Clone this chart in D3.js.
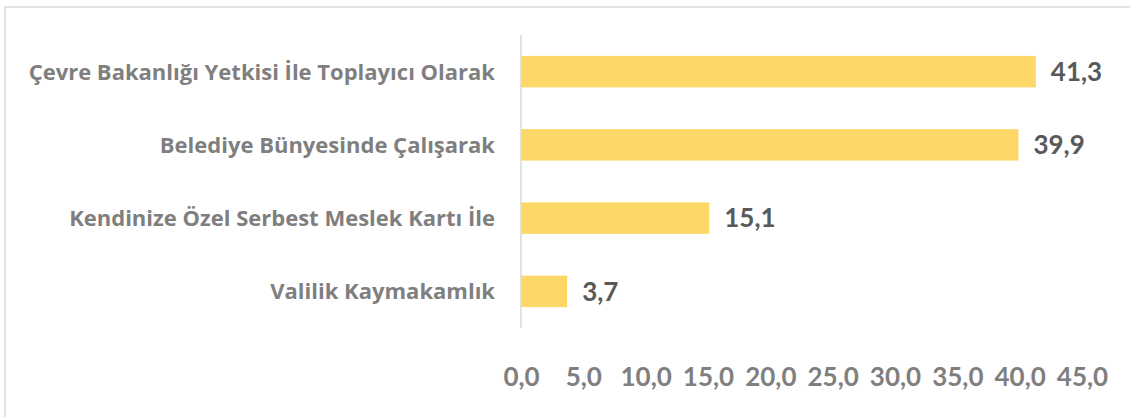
<!DOCTYPE html>
<html>
<head>
<meta charset="utf-8">
<script src="https://cdn.jsdelivr.net/npm/d3@7"></script>
<style>
  html, body { margin: 0; padding: 0; background: #fff; }
  svg { display: block; }
  text { font-family: Lato, "Open Sans", sans-serif; font-weight: 700; }
  .cat { font-family: "Open Sans", Lato, sans-serif; }
</style>
</head>
<body>
<svg id="chart" width="1130" height="417"></svg>
<script>
// Categories (top to bottom) and their percentages
const categories = [
  "Çevre Bakanlığı Yetkisi İle Toplayıcı Olarak",
  "Belediye Bünyesinde Çalışarak",
  "Kendinize Özel Serbest Meslek Kartı İle",
  "Valilik Kaymakamlık"
];
const values = [41.3, 39.9, 15.1, 3.7];
const xTicks = [0, 5, 10, 15, 20, 25, 30, 35, 40, 45];

const W = 1130, H = 417;
const margin = { top: 35, right: 48, bottom: 89, left: 521 };

const svg = d3.select("#chart");
const fmt = v => d3.format(".1f")(v).replace(".", ",");

// Chart frame (runs past the right and bottom edges)
svg.append("rect")
  .attr("x", 5).attr("y", 7)
  .attr("width", W + 20).attr("height", H + 20)
  .attr("fill", "none")
  .attr("stroke", "#e3e3e3")
  .attr("stroke-width", 2);

const x = d3.scaleLinear()
  .domain([0, 45])
  .range([margin.left, W - margin.right]);

const y = d3.scaleBand()
  .domain(categories)
  .range([margin.top, H - margin.bottom])
  .paddingInner(0.57)
  .paddingOuter(0.285);

// Bars
svg.append("g")
  .selectAll("rect")
  .data(categories)
  .join("rect")
  .attr("x", x(0))
  .attr("y", d => y(d))
  .attr("width", (d, i) => x(values[i]) - x(0))
  .attr("height", y.bandwidth())
  .attr("fill", "#FDD868");

// Category axis line
svg.append("line")
  .attr("x1", x(0)).attr("x2", x(0))
  .attr("y1", margin.top).attr("y2", H - margin.bottom)
  .attr("stroke", "#d9d9d9")
  .attr("stroke-width", 1.5);

// Category labels
svg.append("g")
  .selectAll("text")
  .data(categories)
  .join("text")
  .attr("class", "cat")
  .attr("x", 495)
  .attr("y", d => y(d) + y.bandwidth() / 2)
  .attr("dy", "0.36em")
  .attr("text-anchor", "end")
  .attr("font-size", 22)
  .attr("fill", "#7f7f7f")
  .text(d => d);

// Value labels
svg.append("g")
  .selectAll("text")
  .data(categories)
  .join("text")
  .attr("x", (d, i) => x(values[i]) + 15)
  .attr("y", d => y(d) + y.bandwidth() / 2)
  .attr("dy", "0.36em")
  .attr("font-size", 26)
  .attr("fill", "#595959")
  .text((d, i) => fmt(values[i]));

// Value axis (labels only)
const xAxis = d3.axisBottom(x)
  .tickValues(xTicks)
  .tickFormat(fmt)
  .tickSize(0)
  .tickPadding(0);

const gx = svg.append("g")
  .attr("transform", `translate(0, 367)`)
  .call(xAxis);
gx.select(".domain").remove();
gx.selectAll("text")
  .attr("dy", "0.72em")
  .attr("font-size", 26)
  .attr("font-family", null)
  .attr("fill", "#7f7f7f");
</script>
</body>
</html>
